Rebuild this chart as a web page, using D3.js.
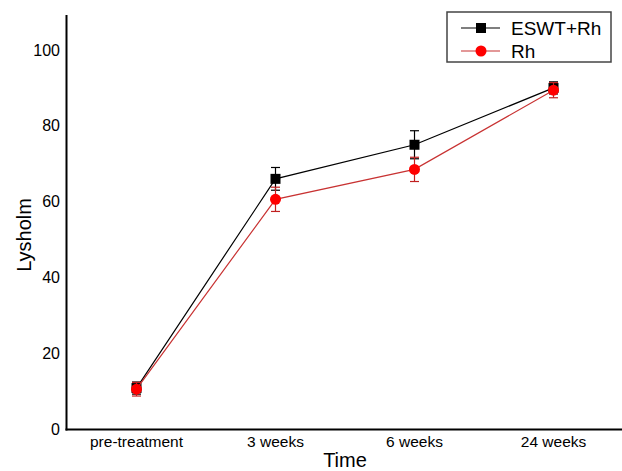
<!DOCTYPE html>
<html>
<head>
<meta charset="utf-8">
<script src="https://cdn.jsdelivr.net/npm/d3@7/dist/d3.min.js"></script>
<style>
  html, body { margin: 0; padding: 0; background: #fff; }
  svg { display: block; font-family: Arial, "Liberation Sans", sans-serif; }
</style>
</head>
<body>
<svg id="chart" width="622" height="471"></svg>
<script>
const categories = ["pre-treatment", "3 weeks", "6 weeks", "24 weeks"];
const seriesNames = ["ESWT+Rh", "Rh"];
const eswtMean = [10.8, 66.0, 75.0, 90.0];
const eswtErr  = [1.6, 3.0, 3.7, 1.6];
const rhMean   = [10.5, 60.6, 68.5, 89.4];
const rhErr    = [1.8, 3.2, 3.2, 2.0];
const yTicks   = [0, 20, 40, 60, 80, 100];
const xTitle = "Time";
const yTitle = "Lysholm";

(function () {
const svg = d3.select("#chart");
const mLeft = 67, mRight = 623, mTop = 15, mBottom = 429.5;

const x = d3.scaleBand().domain(categories).range([mLeft, mRight]).paddingInner(0).paddingOuter(0);
const y = d3.scaleLinear().domain([0, 100]).range([429, 50]);
const yMax = y.invert(mTop);

// axes
const yAxis = svg.append("g").attr("transform", `translate(${mLeft},0)`)
  .call(d3.axisLeft(y.copy().domain([0, yMax]).range([429, mTop])).tickValues(yTicks).tickSize(0).tickPadding(7).tickFormat(d3.format("d")));
yAxis.select(".domain").remove();
yAxis.selectAll("text").attr("font-size", 16).attr("fill", "#000").attr("font-family", "Arial, 'Liberation Sans', sans-serif");

const xAxis = svg.append("g").attr("transform", `translate(0,${mBottom})`)
  .call(d3.axisBottom(x).tickSize(0).tickPadding(6));
xAxis.select(".domain").remove();
xAxis.selectAll("text").attr("font-size", 15.5).attr("fill", "#000").attr("font-family", "Arial, 'Liberation Sans', sans-serif");

// axis lines
svg.append("line").attr("x1", mLeft - 0.5).attr("x2", mLeft - 0.5).attr("y1", mTop).attr("y2", mBottom + 1)
  .attr("stroke", "#000").attr("stroke-width", 2);
svg.append("line").attr("x1", mLeft - 1.5).attr("x2", mRight).attr("y1", mBottom).attr("y2", mBottom)
  .attr("stroke", "#000").attr("stroke-width", 2);

// titles
svg.append("text").attr("x", (mLeft + mRight) / 2).attr("y", 467)
  .attr("text-anchor", "middle").attr("font-size", 20).text(xTitle);
svg.append("text").attr("transform", "translate(31,235) rotate(-90)")
  .attr("text-anchor", "middle").attr("font-size", 20).text(yTitle);

const cx = d => x(d) + x.bandwidth() / 2;

const series = [
  { name: seriesNames[0], mean: eswtMean, err: eswtErr, line: "#000", errColor: "#000", fill: "#000", shape: "square" },
  { name: seriesNames[1], mean: rhMean, err: rhErr, line: "#c83232", errColor: "#c02020", fill: "#ff0000", shape: "circle" }
];

const lineGen = d3.line().x((d, i) => cx(categories[i])).y(d => y(d));

series.forEach(s => {
  const g = svg.append("g");
  g.append("path").datum(s.mean).attr("d", lineGen).attr("fill", "none")
    .attr("stroke", s.line).attr("stroke-width", 1.2);
  categories.forEach((c, i) => {
    const xc = cx(c), hi = y(s.mean[i] + s.err[i]), lo = y(s.mean[i] - s.err[i]);
    g.append("line").attr("x1", xc).attr("x2", xc).attr("y1", hi).attr("y2", lo).attr("stroke", s.errColor).attr("stroke-width", 1.2);
    g.append("line").attr("x1", xc - 4.5).attr("x2", xc + 4.5).attr("y1", hi).attr("y2", hi).attr("stroke", s.errColor).attr("stroke-width", 1.2);
    g.append("line").attr("x1", xc - 4.5).attr("x2", xc + 4.5).attr("y1", lo).attr("y2", lo).attr("stroke", s.errColor).attr("stroke-width", 1.2);
  });
  categories.forEach((c, i) => {
    if (s.shape === "square") {
      g.append("rect").attr("x", cx(c) - 5).attr("y", y(s.mean[i]) - 5).attr("width", 10).attr("height", 10).attr("fill", s.fill);
    } else {
      g.append("circle").attr("cx", cx(c)).attr("cy", y(s.mean[i])).attr("r", 5.5).attr("fill", s.fill);
    }
  });
});

// legend
const lg = svg.append("g");
lg.append("rect").attr("x", 447).attr("y", 12).attr("width", 164).attr("height", 50)
  .attr("fill", "#fff").attr("stroke", "#444").attr("stroke-width", 1.5);
series.forEach((s, i) => {
  const ly = 28 + i * 23;
  lg.append("line").attr("x1", 461).attr("x2", 500).attr("y1", ly).attr("y2", ly).attr("stroke", s.line).attr("stroke-width", 1.2);
  if (s.shape === "square") {
    lg.append("rect").attr("x", 476).attr("y", ly - 5).attr("width", 10).attr("height", 10).attr("fill", s.fill);
  } else {
    lg.append("circle").attr("cx", 481).attr("cy", ly).attr("r", 5.5).attr("fill", s.fill);
  }
  lg.append("text").attr("x", 511).attr("y", ly).attr("dy", "0.36em").attr("font-size", 19).text(s.name);
});
})();
</script>
</body>
</html>
